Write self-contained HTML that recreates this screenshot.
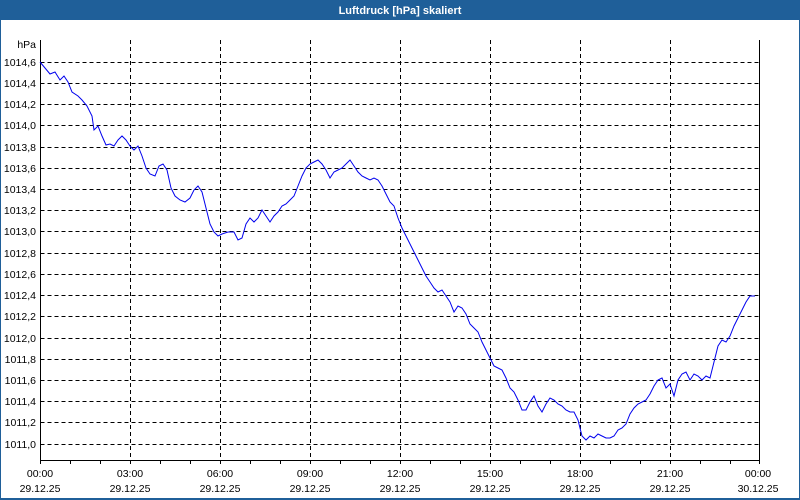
<!DOCTYPE html>
<html><head><style>
html,body{margin:0;padding:0;background:#fff;}
svg{display:block;}
text{font-family:"Liberation Sans",sans-serif;font-size:10.5px;fill:#000;}
</style></head><body>
<svg width="800" height="500" viewBox="0 0 800 500" xmlns="http://www.w3.org/2000/svg">
<rect x="0" y="0" width="800" height="500" fill="#1f5f99"/>
<rect x="1" y="20" width="798" height="478" fill="#fff"/>
<text x="400" y="14" text-anchor="middle" style="fill:#fff;font-weight:bold;font-size:11px">Luftdruck [hPa] skaliert</text>
<g stroke="#000" stroke-width="1" stroke-dasharray="4,3" fill="none">
<path d="M40.5 62.5H760M40.5 83.5H760M40.5 104.5H760M40.5 125.5H760M40.5 147.5H760M40.5 168.5H760M40.5 189.5H760M40.5 210.5H760M40.5 231.5H760M40.5 253.5H760M40.5 274.5H760M40.5 295.5H760M40.5 316.5H760M40.5 338.5H760M40.5 359.5H760M40.5 380.5H760M40.5 401.5H760M40.5 422.5H760M40.5 444.5H760"/>
<path d="M130.5 40V460M220.5 40V460M310.5 40V460M400.5 40V460M490.5 40V460M580.5 40V460M670.5 40V460"/>
</g>
<path d="M40.5 40V460.5H759.5V40" stroke="#000" fill="none"/>
<g stroke="#000"><path d="M70.5 460v4M100.5 460v4M130.5 460v4M160.5 460v4M190.5 460v4M220.5 460v4M250.5 460v4M280.5 460v4M310.5 460v4M340.5 460v4M370.5 460v4M400.5 460v4M430.5 460v4M460.5 460v4M490.5 460v4M520.5 460v4M550.5 460v4M580.5 460v4M610.5 460v4M640.5 460v4M670.5 460v4M700.5 460v4M730.5 460v4M40.5 460v4M759.5 460v4"/></g>
<g text-anchor="end">
<text x="36" y="48">hPa</text>
<text x="36" y="66">1014,6</text><text x="36" y="87">1014,4</text><text x="36" y="108">1014,2</text><text x="36" y="129">1014,0</text><text x="36" y="151">1013,8</text><text x="36" y="172">1013,6</text><text x="36" y="193">1013,4</text><text x="36" y="214">1013,2</text><text x="36" y="235">1013,0</text><text x="36" y="257">1012,8</text><text x="36" y="278">1012,6</text><text x="36" y="299">1012,4</text><text x="36" y="320">1012,2</text><text x="36" y="342">1012,0</text><text x="36" y="363">1011,8</text><text x="36" y="384">1011,6</text><text x="36" y="405">1011,4</text><text x="36" y="426">1011,2</text><text x="36" y="448">1011,0</text>
</g>
<g text-anchor="middle">
<text x="40" y="477">00:00</text><text x="40" y="492">29.12.25</text>
<text x="130" y="477">03:00</text><text x="130" y="492">29.12.25</text>
<text x="220" y="477">06:00</text><text x="220" y="492">29.12.25</text>
<text x="310" y="477">09:00</text><text x="310" y="492">29.12.25</text>
<text x="400" y="477">12:00</text><text x="400" y="492">29.12.25</text>
<text x="490" y="477">15:00</text><text x="490" y="492">29.12.25</text>
<text x="580" y="477">18:00</text><text x="580" y="492">29.12.25</text>
<text x="670" y="477">21:00</text><text x="670" y="492">29.12.25</text>
<text x="758" y="477">00:00</text><text x="758" y="492">30.12.25</text>
</g>
<polyline fill="none" stroke="#0000ee" stroke-width="1" points="40,62 45,68 50,74 55,72 60,80 64,76 68,82 72,92 78,96 82,100 87,106 92,116 94,130 98,126 102,136 106,145 110,144 114,146 118,140 122,136 126,140 130,146 134,150 138,146 142,156 146,168 150,174 155,176 159,166 163,164 167,170 171,188 175,196 180,200 185,202 190,198 194,190 198,186 202,192 206,208 210,224 214,232 218,236 222,234 228,232 234,232 238,240 242,238 246,224 250,218 254,222 258,218 262,210 266,216 270,222 274,216 278,212 282,206 286,204 290,200 294,196 298,186 302,176 306,168 310,164 314,162 318,160 322,164 326,170 330,178 334,172 338,170 342,168 346,164 350,160 354,166 358,172 362,176 366,178 370,180 374,178 378,180 382,186 386,194 390,202 394,206 398,218 402,228 406,236 410,244 414,252 418,260 422,268 426,276 430,282 434,288 438,292 442,290 446,296 450,302 454,312 458,306 462,308 466,314 470,324 474,328 478,332 482,342 486,350 490,358 494,366 498,368 502,370 506,378 510,388 514,392 518,400 522,410 526,410 530,402 534,396 538,406 542,412 546,404 550,398 554,400 558,404 562,406 566,410 570,412 574,412 578,420 582,436 586,440 590,436 594,438 598,434 602,436 606,438 610,438 614,436 618,430 622,428 626,424 630,414 634,408 638,404 642,402 646,400 650,394 654,386 658,380 662,378 666,388 670,384 674,396 678,380 682,374 686,372 690,380 694,374 698,376 702,380 706,376 710,378 714,362 718,346 722,340 726,342 730,336 734,326 738,318 742,310 746,302 750,296 755,296"/>
</svg>
</body></html>
